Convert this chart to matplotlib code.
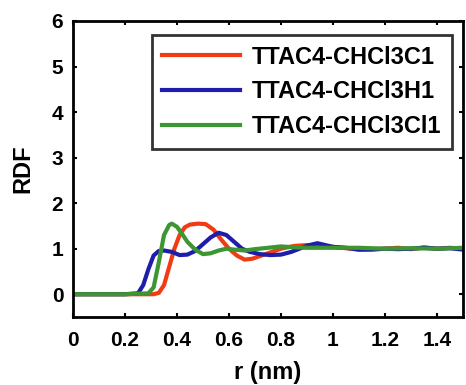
import matplotlib.pyplot as plt
import numpy as np

plt.rcParams['font.family'] = ['Liberation Sans', 'DejaVu Sans']
plt.rcParams['font.weight'] = 'bold'

# r (nm)
r_c = [0, 0.1, 0.2, 0.29, 0.31, 0.33, 0.35, 0.37, 0.39, 0.41, 0.43, 0.45, 0.48, 0.51,
       0.54, 0.57, 0.60, 0.63, 0.66, 0.69, 0.72, 0.76, 0.80, 0.85, 0.90, 0.95, 1.0,
       1.05, 1.1, 1.15, 1.2, 1.25, 1.3, 1.35, 1.4, 1.45, 1.5]
g_c = [0, 0, 0, 0, 0.0, 0.03, 0.2, 0.6, 1.0, 1.3, 1.47, 1.53, 1.55, 1.54,
       1.42, 1.2, 1.0, 0.85, 0.76, 0.78, 0.84, 0.92, 1.0, 1.06, 1.08, 1.05, 1.04,
       1.01, 0.98, 0.99, 1.0, 1.02, 0.99, 1.03, 1.0, 1.02, 1.0]

r_h = [0, 0.1, 0.2, 0.25, 0.27, 0.29, 0.31, 0.33, 0.35, 0.38, 0.41, 0.44, 0.47, 0.50,
       0.53, 0.56, 0.59, 0.62, 0.65, 0.68, 0.72, 0.76, 0.80, 0.84, 0.88, 0.91, 0.94,
       0.97, 1.0, 1.05, 1.1, 1.15, 1.2, 1.25, 1.3, 1.35, 1.4, 1.45, 1.5]
g_h = [0, 0, 0, 0.02, 0.2, 0.55, 0.85, 0.95, 0.96, 0.93, 0.86, 0.87, 0.95, 1.1,
       1.25, 1.35, 1.3, 1.15, 1.0, 0.93, 0.88, 0.86, 0.87, 0.93, 1.02, 1.08, 1.12,
       1.08, 1.04, 1.02, 0.98, 0.98, 1.0, 0.99, 1.0, 1.02, 1.0, 1.01, 0.98]

r_cl = [0, 0.1, 0.2, 0.29, 0.31, 0.33, 0.35, 0.37, 0.38, 0.40, 0.42, 0.44, 0.47,
        0.50, 0.53, 0.56, 0.59, 0.62, 0.66, 0.70, 0.75, 0.80, 0.85, 0.9, 1.0,
        1.1, 1.2, 1.3, 1.4, 1.5]
g_cl = [0, 0, 0, 0.02, 0.15, 0.7, 1.3, 1.52, 1.55, 1.48, 1.32, 1.15, 0.98,
        0.88, 0.9, 0.96, 1.0, 0.98, 0.96, 0.99, 1.02, 1.05, 1.03, 1.02, 1.02,
        1.02, 1.0, 1.01, 1.0, 1.02]

fig = plt.figure(figsize=(4.66, 3.85), dpi=100)
ax = fig.add_axes([73 / 466, 1 - 317 / 385, 390 / 466, 296 / 385])

ax.plot(r_c, g_c, color='#f03c14', lw=3, label='TTAC4-CHCl3C1')
ax.plot(r_h, g_h, color='#1e1eaa', lw=3, label='TTAC4-CHCl3H1')
ax.plot(r_cl, g_cl, color='#3c9632', lw=3, label='TTAC4-CHCl3Cl1')

ax.set_xlim(0, 1.5)
ax.set_ylim(-0.5, 6)
ax.set_xticks([0, 0.2, 0.4, 0.6, 0.8, 1, 1.2, 1.4])
ax.set_xticklabels(['0', '0.2', '0.4', '0.6', '0.8', '1', '1.2', '1.4'])
ax.set_yticks([0, 1, 2, 3, 4, 5, 6])
ax.tick_params(direction='in', top=True, right=True, labelsize=15, width=1.5, length=3)
ax.tick_params(axis='x', pad=10)
ax.tick_params(axis='y', pad=7)
for s in ax.spines.values():
    s.set_linewidth(2)

ax.set_xlabel('r (nm)', fontsize=17, fontweight='bold', labelpad=8)
ax.set_ylabel('RDF', fontsize=17, fontweight='bold', labelpad=12)

leg = ax.legend(loc='upper right', bbox_to_anchor=(0.972, 0.953), borderaxespad=0,
                fontsize=17, frameon=True, fancybox=False, edgecolor='black',
                handlelength=3.3, handletextpad=0.5, borderpad=0.45, labelspacing=0.5)
leg.get_frame().set_linewidth(2)

fig.savefig('out.png', dpi=100)
